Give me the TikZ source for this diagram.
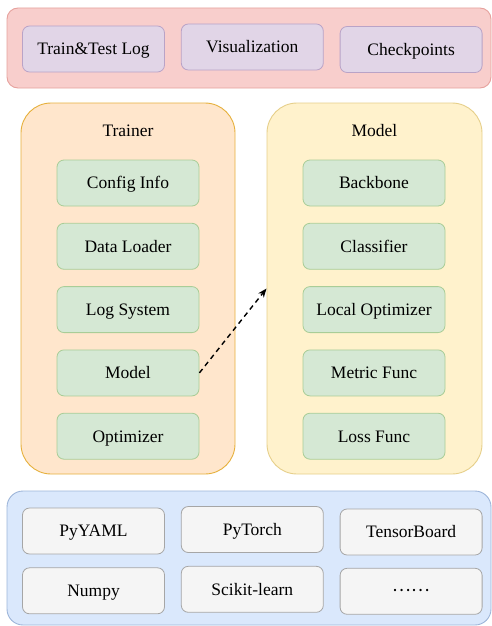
\documentclass[tikz,border=0pt]{standalone}
\usepackage{fontspec}
\setmainfont{Liberation Serif}
\newfontfamily\cjk{Noto Sans CJK SC}
\usepackage{tikz}
\definecolor{logred}{HTML}{F8CECC}
\definecolor{logredline}{HTML}{E6A19D}
\definecolor{logpurple}{HTML}{E1D5E7}
\definecolor{logpurpleline}{HTML}{B9A3C7}
\definecolor{trainorange}{HTML}{FFE6CC}
\definecolor{trainorangeline}{HTML}{E6B03C}
\definecolor{modelyellow}{HTML}{FFF2CC}
\definecolor{modelyellowline}{HTML}{E6CF8A}
\definecolor{partgreen}{HTML}{D5E8D4}
\definecolor{partgreenline}{HTML}{A9CD97}
\definecolor{libblue}{HTML}{DAE8FC}
\definecolor{libblueline}{HTML}{9DB5D9}
\definecolor{libgray}{HTML}{F5F5F5}
\definecolor{libgrayline}{HTML}{A6A6A6}
\usetikzlibrary{arrows.meta, positioning}

\begin{document}
\begin{tikzpicture}[
    x=1pt, y=1pt,
    node distance=16.5pt and 16pt,
    panel/.style={rectangle, line width=0.9pt, inner sep=0pt},
    unit/.style={rectangle, rounded corners=7pt, line width=0.8pt, inner sep=0pt,
                 minimum width=142pt, minimum height=46pt, text height=11.6pt, text depth=0pt,
                 font=\fontsize{17.5}{21}\selectfont},
    paneltitle/.style={inner sep=0pt, text height=11.6pt, text depth=0pt,
                 font=\fontsize{17.5}{21}\selectfont}
]
    \useasboundingbox (0,0) rectangle (492,-626);

    % Output Layer
    \node[panel, rounded corners=11pt, fill=logred, draw=logredline, minimum width=484pt, minimum height=80pt] (output) at (249,-48) {};
    \node[unit, fill=logpurple, draw=logpurpleline] (trainlog) at (93.5,-49) {Train\&Test Log};
    \node[unit, fill=logpurple, draw=logpurpleline, right=of trainlog, yshift=2pt] (visual) {Visualization};
    \node[unit, fill=logpurple, draw=logpurpleline, right=of visual, yshift=-2.5pt] (ckpt) {Checkpoints};

    % Trainer Panel
    \node[panel, rounded corners=30pt, fill=trainorange, draw=trainorangeline, minimum width=214pt, minimum height=371pt] (trainer) at (128,-288.5) {};
    \node[paneltitle] (trainertitle) at ([yshift=-28pt]trainer.north) {Trainer};
    \node[unit, fill=partgreen, draw=partgreenline] (config) at (128,-183) {Config Info};
    \node[unit, fill=partgreen, draw=partgreenline, below=of config] (loader) {Data Loader};
    \node[unit, fill=partgreen, draw=partgreenline, below=of loader] (logsys) {Log System};
    \node[unit, fill=partgreen, draw=partgreenline, below=of logsys] (trainmodel) {Model};
    \node[unit, fill=partgreen, draw=partgreenline, below=of trainmodel] (optim) {Optimizer};

    % Model Panel
    \node[panel, rounded corners=30pt, fill=modelyellow, draw=modelyellowline, minimum width=215pt, minimum height=371pt] (model) at (374.5,-288.5) {};
    \node[paneltitle] (modeltitle) at ([yshift=-28pt]model.north) {Model};
    \node[unit, fill=partgreen, draw=partgreenline] (backbone) at (374,-183) {Backbone};
    \node[unit, fill=partgreen, draw=partgreenline, below=of backbone] (classifier) {Classifier};
    \node[unit, fill=partgreen, draw=partgreenline, below=of classifier] (localopt) {Local Optimizer};
    \node[unit, fill=partgreen, draw=partgreenline, below=of localopt] (metric) {Metric Func};
    \node[unit, fill=partgreen, draw=partgreenline, below=of metric] (loss) {Loss Func};

    % Library Layer
    \node[panel, rounded corners=16pt, fill=libblue, draw=libblueline, minimum width=484pt, minimum height=134pt] (library) at (249,-558) {};
    \node[unit, fill=libgray, draw=libgrayline] (pyyaml) at (93.5,-531) {PyYAML};
    \node[unit, fill=libgray, draw=libgrayline, right=of pyyaml, yshift=1.5pt] (pytorch) {PyTorch};
    \node[unit, fill=libgray, draw=libgrayline, right=of pytorch, yshift=-2.5pt] (tboard) {TensorBoard};
    \node[unit, fill=libgray, draw=libgrayline, below=13pt of pyyaml] (numpy) {Numpy};
    \node[unit, fill=libgray, draw=libgrayline, right=of numpy, yshift=1.5pt] (sklearn) {Scikit-learn};
    \node[unit, fill=libgray, draw=libgrayline, right=of sklearn, yshift=-2pt] (more) {\raisebox{6pt}{\cjk ……}};

    % Arrow
    \draw[-{Stealth[length=9pt, width=7pt]}, line width=1.4pt, dash pattern=on 5pt off 4pt] (trainmodel.east) -- (model.west);
\end{tikzpicture}
\end{document}
